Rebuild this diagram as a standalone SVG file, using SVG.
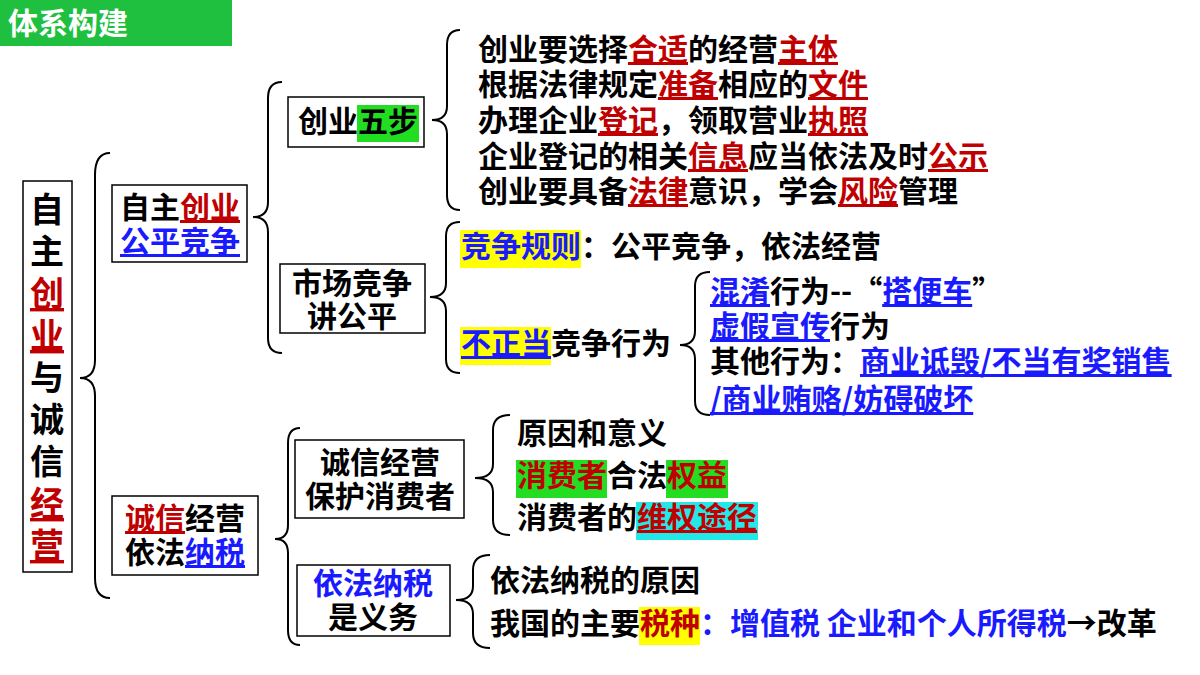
<svg xmlns="http://www.w3.org/2000/svg" width="1200" height="675" viewBox="0 0 1200 675">
<style>
text{font-family:"Noto Sans CJK SC","Noto Sans",sans-serif;font-weight:bold;font-size:30px;fill:#000}
.r{fill:#c00000;text-decoration:underline}
.b{fill:#1a1aff;text-decoration:underline}
.bl{fill:#1a1aff}
.box{fill:#fff;stroke:#000;stroke-width:1.5}
.br{fill:none;stroke:#000;stroke-width:2}
.m{text-anchor:middle}
.v{font-size:34px;text-anchor:middle}
</style>
<rect width="1200" height="675" fill="#fff"/>
<g id="title"><rect x="0" y="0" width="232" height="46" fill="#1fbf3f"/><text x="8" y="34" style="fill:#fff;font-size:30px">体系构建</text></g>
<g id="connectors">
<path class="br" d="M110,153 Q95,153 95,175 L95,360 Q95,378 80,378 Q95,378 95,396 L95,578 Q95,598 110,598"/>
<path class="br" d="M282,82 Q268,82 268,98 L268,202 Q268,217 253,217 Q268,217 268,232 L268,338 Q268,353 282,353"/>
<path class="br" d="M460,30 Q447,30 447,45 L447,106 Q447,120 432,120 Q447,120 447,134 L447,195 Q447,210 460,210"/>
<path class="br" d="M460,222 Q446,222 446,236 L446,283 Q446,297 430,297 Q446,297 446,311 L446,359 Q446,373 460,373"/>
<path class="br" d="M710,272 Q695,272 695,286 L695,331 Q695,345 680,345 Q695,345 695,359 L695,401 Q695,415 710,415"/>
<path class="br" d="M300,428 Q288,428 288,443 L288,525 Q288,539 275,539 Q288,539 288,553 L288,630 Q288,645 300,645"/>
<path class="br" d="M510,415 Q493,415 493,430 L493,464 Q493,478 475,478 Q493,478 493,492 L493,520 Q493,535 510,535"/>
<path class="br" d="M490,555 Q473,555 473,570 L473,586 Q473,600 456,600 Q473,600 473,614 L473,633 Q473,648 490,648"/>
</g>
<g id="root"><rect class="box" x="23" y="181" width="49" height="391"/>
<text x="47" y="222" class="v">自</text>
<text x="47" y="264" class="v">主</text>
<text x="47" y="306" class="v r">创</text>
<text x="47" y="348" class="v r">业</text>
<text x="47" y="390" class="v">与</text>
<text x="47" y="432" class="v">诚</text>
<text x="47" y="474" class="v">信</text>
<text x="47" y="516" class="v r">经</text>
<text x="47" y="558" class="v r">营</text>
</g>
<g id="n1"><rect class="box" x="112" y="185" width="135" height="77"/>
<text x="180" y="218" class="m">自主<tspan class="r">创业</tspan></text>
<text x="180" y="252" class="m b">公平竞争</text></g>
<g id="n2"><rect class="box" x="288" y="97" width="136" height="50"/>
<rect x="357" y="105" width="62" height="37" fill="#22dd22"/>
<text x="298" y="132">创业五步</text></g>
<g id="n3"><rect class="box" x="280" y="264" width="145" height="69"/>
<text x="352" y="294" class="m">市场竞争</text><text x="352" y="327" class="m">讲公平</text></g>
<g id="steps">
<text x="478" y="60">创业要选择<tspan class="r">合适</tspan>的经营<tspan class="r">主体</tspan></text>
<text x="478" y="95">根据法律规定<tspan class="r">准备</tspan>相应的<tspan class="r">文件</tspan></text>
<text x="478" y="131">办理企业<tspan class="r">登记</tspan>，领取营业<tspan class="r">执照</tspan></text>
<text x="478" y="167">企业登记的相关<tspan class="r">信息</tspan>应当依法及时<tspan class="r">公示</tspan></text>
<text x="478" y="202">创业要具备<tspan class="r">法律</tspan>意识，学会<tspan class="r">风险</tspan>管理</text>
</g>
<g id="rule"><rect x="460" y="230" width="121" height="38" fill="#ffff00"/>
<text x="461" y="257"><tspan class="bl">竞争规则</tspan>：公平竞争，依法经营</text></g>
<g id="unfair"><rect x="460" y="327" width="91" height="38" fill="#ffff00"/>
<text x="461" y="354"><tspan class="b">不正当</tspan>竞争行为</text></g>
<g id="acts">
<text x="710" y="302"><tspan class="b">混淆</tspan>行为--“<tspan class="b">搭便车</tspan>”</text>
<text x="710" y="337"><tspan class="b">虚假宣传</tspan>行为</text>
<text x="710" y="372">其他行为：<tspan class="b">商业诋毁/不当有奖销售</tspan></text>
<text x="710" y="410" class="b">/商业贿赂/妨碍破坏</text>
</g>
<g id="n4"><rect class="box" x="112" y="496" width="146" height="79"/>
<text x="185" y="529" class="m"><tspan class="r">诚信</tspan>经营</text>
<text x="185" y="563" class="m">依法<tspan class="b">纳税</tspan></text></g>
<g id="n5"><rect class="box" x="295" y="440" width="169" height="78"/>
<text x="380" y="473" class="m">诚信经营</text><text x="380" y="507" class="m">保护消费者</text></g>
<g id="consumer">
<rect x="516" y="460" width="91" height="38" fill="#22dd22"/>
<rect x="666" y="460" width="62" height="38" fill="#22dd22"/>
<rect x="636" y="502" width="122" height="38" fill="#22e8e8"/>
<text x="517" y="444">原因和意义</text>
<text x="517" y="486"><tspan class="r" style="text-decoration:none">消费者</tspan>合法<tspan class="r" style="text-decoration:none">权益</tspan></text>
<text x="517" y="528">消费者的<tspan class="r">维权途径</tspan></text>
</g>
<g id="n6"><rect class="box" x="297" y="565" width="153" height="71"/>
<text x="373" y="594" class="m bl">依法纳税</text><text x="373" y="628" class="m">是义务</text></g>
<g id="tax">
<rect x="639" y="607" width="61" height="38" fill="#ffff00"/>
<text x="490" y="591">依法纳税的原因</text>
<text x="490" y="634">我国的主要<tspan class="r" style="text-decoration:none">税种</tspan><tspan class="bl">：增值税 企业和个人所得税</tspan>→改革</text>
</g>
</svg>
